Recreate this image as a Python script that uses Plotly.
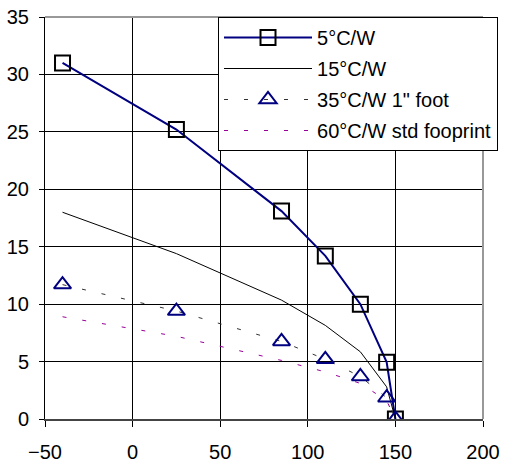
import plotly.graph_objects as go

x_vals = [-40, 25, 85, 110, 130, 145, 150]
s5 = [31.0, 25.2, 18.1, 14.2, 10.0, 4.95, 0.0]
s15 = [18.0, 14.4, 10.35, 8.15, 5.85, 2.8, 0.0]
s35 = [11.7, 9.4, 6.75, 5.2, 3.7, 1.85, 0.0]
s60 = [8.9, 7.2, 5.1, 4.1, 3.1, 1.6, 0.0]
names = ["5°C/W", "15°C/W", "35°C/W 1\" foot", "60°C/W std fooprint"]
x_ticks = [-50, 0, 50, 100, 150, 200]
y_ticks = [0, 5, 10, 15, 20, 25, 30, 35]

FONT = "Liberation Sans, Arial, sans-serif"

fig = go.Figure()
fig.add_trace(go.Scatter(
    x=x_vals, y=s5, name=names[0], mode="lines+markers", legendgroup="a",
    line=dict(color="#000080", width=2),
    marker=dict(symbol="square-open", size=15, color="black", line=dict(width=2))))
fig.add_trace(go.Scatter(
    x=x_vals, y=s15, name=names[1], mode="lines", legendgroup="b",
    line=dict(color="black", width=1)))
fig.add_trace(go.Scatter(
    x=x_vals, y=s35, name=names[2], mode="lines+markers", legendgroup="c",
    line=dict(color="#333333", width=1, dash="4px,16px"),
    marker=dict(symbol="triangle-up-open", size=15, color="#000080", line=dict(width=2))))
fig.add_trace(go.Scatter(
    x=x_vals, y=s60, name=names[3], mode="lines", legendgroup="d",
    line=dict(color="#990099", width=1, dash="4px,16px")))

fig.update_layout(
    width=510, height=466,
    margin=dict(l=45, r=27, t=17, b=47, autoexpand=False),
    paper_bgcolor="white", plot_bgcolor="white",
    font=dict(family=FONT, size=20, color="black"),
    showlegend=True,
    legend=dict(x=0.395, y=1.0, xanchor="left", yanchor="top",
                bgcolor="white", bordercolor="black", borderwidth=1,
                font=dict(family=FONT, size=20, color="black"),
                tracegroupgap=2, itemwidth=88),
    xaxis=dict(range=[-50, 200], tickvals=x_ticks, showgrid=True, gridcolor="black",
               gridwidth=1, zeroline=True, zerolinecolor="black", zerolinewidth=1,
               showline=True, linecolor="#444444", linewidth=2,
               ticks="outside", ticklen=6, tickcolor="black", tickwidth=1,
               ticklabelstandoff=8, fixedrange=True),
    yaxis=dict(range=[0, 35], tickvals=y_ticks, showgrid=True, gridcolor="black",
               gridwidth=1, zeroline=False,
               showline=True, linecolor="black", linewidth=1,
               ticks="outside", ticklen=5, tickcolor="black", tickwidth=1,
               ticklabelstandoff=6, fixedrange=True),
    shapes=[
        dict(type="line", xref="paper", yref="paper", x0=0, x1=1, y0=1, y1=1,
             line=dict(color="#999999", width=2), layer="above"),
        dict(type="line", xref="paper", yref="paper", x0=1, x1=1, y0=0, y1=1,
             line=dict(color="#999999", width=2), layer="above"),
    ],
)

fig.write_html("out.html", config={"displayModeBar": False},
               post_script="document.body.style.margin='0';document.body.style.overflow='hidden';")
